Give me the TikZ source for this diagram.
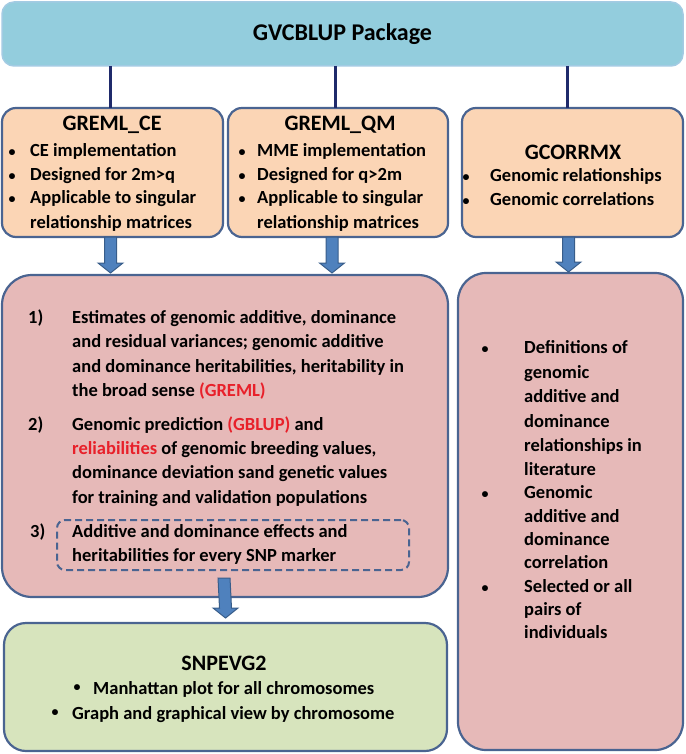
\documentclass[tikz,border=0pt]{standalone}
\usepackage{fontspec}
\setmainfont{Carlito}
\usetikzlibrary{calc}
\definecolor{topblue}{HTML}{93CDDD}
\definecolor{topedge}{HTML}{A3CBE3}
\definecolor{navy}{HTML}{1F2A6B}
\definecolor{edgeblue}{HTML}{4A6491}
\definecolor{peach}{HTML}{FBD5B5}
\definecolor{rosebox}{HTML}{E6B9B8}
\definecolor{sage}{HTML}{D7E4BD}
\definecolor{arrowfill}{HTML}{4F81BD}
\definecolor{arrowedge}{HTML}{385D8A}
\definecolor{redtxt}{HTML}{E8202A}
\newcommand\blockarr[2]{%
  \path[barr] ($(#1)+(-6,0)$) -- ($(#2)+(-6,-10)$) -- ($(#2)+(-12.5,-10)$) -- (#2)
    -- ($(#2)+(12.5,-10)$) -- ($(#2)+(6,-10)$) -- ($(#1)+(6,0)$) -- cycle;}
\begin{document}
\begin{tikzpicture}[x=1pt,y=-1pt,
  box/.style={draw=edgeblue, line width=2.2pt, rounded corners=14pt, anchor=north west, inner sep=0pt, outer sep=0pt},
  body/.style={font=\fontsize{18.5}{22}\selectfont\bfseries, anchor=base west, inner sep=0pt},
  bul/.style={font=\fontsize{14}{16}\selectfont\bfseries, anchor=base, inner sep=0pt},
  title/.style={font=\fontsize{22}{26}\selectfont\bfseries, inner sep=0pt},
  conn/.style={draw=navy, line width=3pt},
  barr/.style={fill=arrowfill, draw=arrowedge, line width=1pt}]
\useasboundingbox (0,0) rectangle (685,754);
% boxes
\node[box, fill=topblue, draw=topedge, line width=1.5pt, rounded corners=12pt, minimum width=681pt, minimum height=64pt] (top) at (2,2) {};
\node[title, font=\fontsize{24}{28}\selectfont\bfseries] (toptxt) at (top.center) {GVCBLUP Package};
\node[box, fill=peach, minimum width=221pt, minimum height=129pt] (ce) at (2,108) {};
\node[box, fill=peach, minimum width=220pt, minimum height=129pt] (qm) at (228,108) {};
\node[box, fill=peach, minimum width=221pt, minimum height=129pt] (gc) at (462,108) {};
\node[box, fill=rosebox, rounded corners=30pt, minimum width=446pt, minimum height=322pt] (big) at (2,275) {};
\node[box, fill=rosebox, rounded corners=28pt, minimum width=225pt, minimum height=477pt] (right) at (458,273) {};
\node[box, fill=sage, rounded corners=22pt, minimum width=443pt, minimum height=128pt] (green) at (4,623) {};
\node[box, line width=2pt, dashed, dash pattern=on 7pt off 4pt, rounded corners=8pt, minimum width=352pt, minimum height=50pt] (snp) at (57,520) {};
% connectors
\draw[conn] ($(top.south -| ce.north)+(-2,0)$) -- ($(ce.north)+(-2,0)$);
\draw[conn] ($(top.south -| qm.north)+(-3,0)$) -- ($(qm.north)+(-3,0)$);
\draw[conn] ($(top.south -| gc.north)+(-5,0)$) -- ($(gc.north)+(-5,0)$);
\coordinate (a1s) at ($(ce.south)+(-2,0)$);
\coordinate (a1e) at ($(ce.south |- big.north)+(-2,-2)$);
\coordinate (a2s) at ($(qm.south)+(-6,0)$);
\coordinate (a2e) at ($(qm.south |- big.north)+(-6,-2)$);
\coordinate (a3s) at ($(gc.south)+(-4,0)$);
\coordinate (a3e) at ($(gc.south |- right.north)+(-4,-1)$);
\coordinate (a4s) at ($(big.south)+(-1,-19)$);
\coordinate (a4e) at ($(green.north)+(0,-5)$);
\blockarr{a1s}{a1e}
\blockarr{a2s}{a2e}
\blockarr{a3s}{a3e}
\blockarr{a4s}{a4e}
% GREML_CE
\node[title] (cet) at (112,125) {GREML\_CE};
\node[bul] (ceb1) at (12,157) {•};
\node[bul] (ceb2) at (12,180) {•};
\node[bul] (ceb3) at (12,204) {•};
\node[body] (ce1) at (30,157) {CE implementation};
\node[body] (ce2) at (30,180) {Designed for 2m>q};
\node[body] (ce3) at (30,204) {Applicable to singular};
\node[body] (ce4) at (30,228) {relationship matrices};
% GREML_QM
\node[title] (qmt) at (340,125) {GREML\_QM};
\node[bul] (qmb1) at (242,157) {•};
\node[bul] (qmb2) at (242,180) {•};
\node[bul] (qmb3) at (242,204) {•};
\node[body] (qm1) at (257,157) {MME implementation};
\node[body] (qm2) at (257,180) {Designed for q>2m};
\node[body] (qm3) at (257,204) {Applicable to singular};
\node[body] (qm4) at (257,228) {relationship matrices};
% GCORRMX
\node[title] (gct) at (573,152) {GCORRMX};
\node[bul] (gcb1) at (466,182) {•};
\node[bul] (gcb2) at (466,205) {•};
\node[body] (gc1) at (490,182) {Genomic relationships};
\node[body] (gc2) at (490,205) {Genomic correlations};
% big box
\node[body] (n1) at (28,323) {1)};
\node[body] (b1) at (72,323) {Estimates of genomic additive, dominance};
\node[body] (b2) at (72,347) {and residual variances; genomic additive};
\node[body] (b3) at (72,372) {and dominance heritabilities, heritability in};
\node[body] (b4) at (72,396) {the broad sense \textcolor{redtxt}{(GREML)}};
\node[body] (n2) at (28,430) {2)};
\node[body] (b5) at (72,430) {Genomic prediction \textcolor{redtxt}{(GBLUP)} and};
\node[body] (b6) at (72,454) {\textcolor{redtxt}{reliabilities} of genomic breeding values,};
\node[body] (b7) at (72,478) {dominance deviation sand genetic values};
\node[body] (b8) at (72,503) {for training and validation populations};
\node[body] (n3) at (30,537) {3)};
\node[body] (b9) at (72,537) {Additive and dominance effects and};
\node[body] (b10) at (72,561) {heritabilities for every SNP marker};
% right box
\node[bul] (rb1) at (485,353) {•};
\node[bul] (rb2) at (485,498) {•};
\node[bul] (rb3) at (485,592) {•};
\node[body] (r1) at (524,353) {Definitions of};
\node[body] (r2) at (524,378) {genomic};
\node[body] (r3) at (524,402) {additive and};
\node[body] (r4) at (524,427) {dominance};
\node[body] (r5) at (524,451) {relationships in};
\node[body] (r6) at (524,475) {literature};
\node[body] (r7) at (524,498) {Genomic};
\node[body] (r8) at (524,522) {additive and};
\node[body] (r9) at (524,545) {dominance};
\node[body] (r10) at (524,568) {correlation};
\node[body] (r11) at (524,592) {Selected or all};
\node[body] (r12) at (524,615) {pairs of};
\node[body] (r13) at (524,638) {individuals};
% green box
\node[title] (gt) at (224,663) {SNPEVG2};
\node[bul] (gb1) at (77,691) {•};
\node[bul] (gb2) at (55,716) {•};
\node[body] (g1) at (93,694) {Manhattan plot for all chromosomes};
\node[body] (g2) at (72,719) {Graph and graphical view by chromosome};
\end{tikzpicture}
\end{document}
